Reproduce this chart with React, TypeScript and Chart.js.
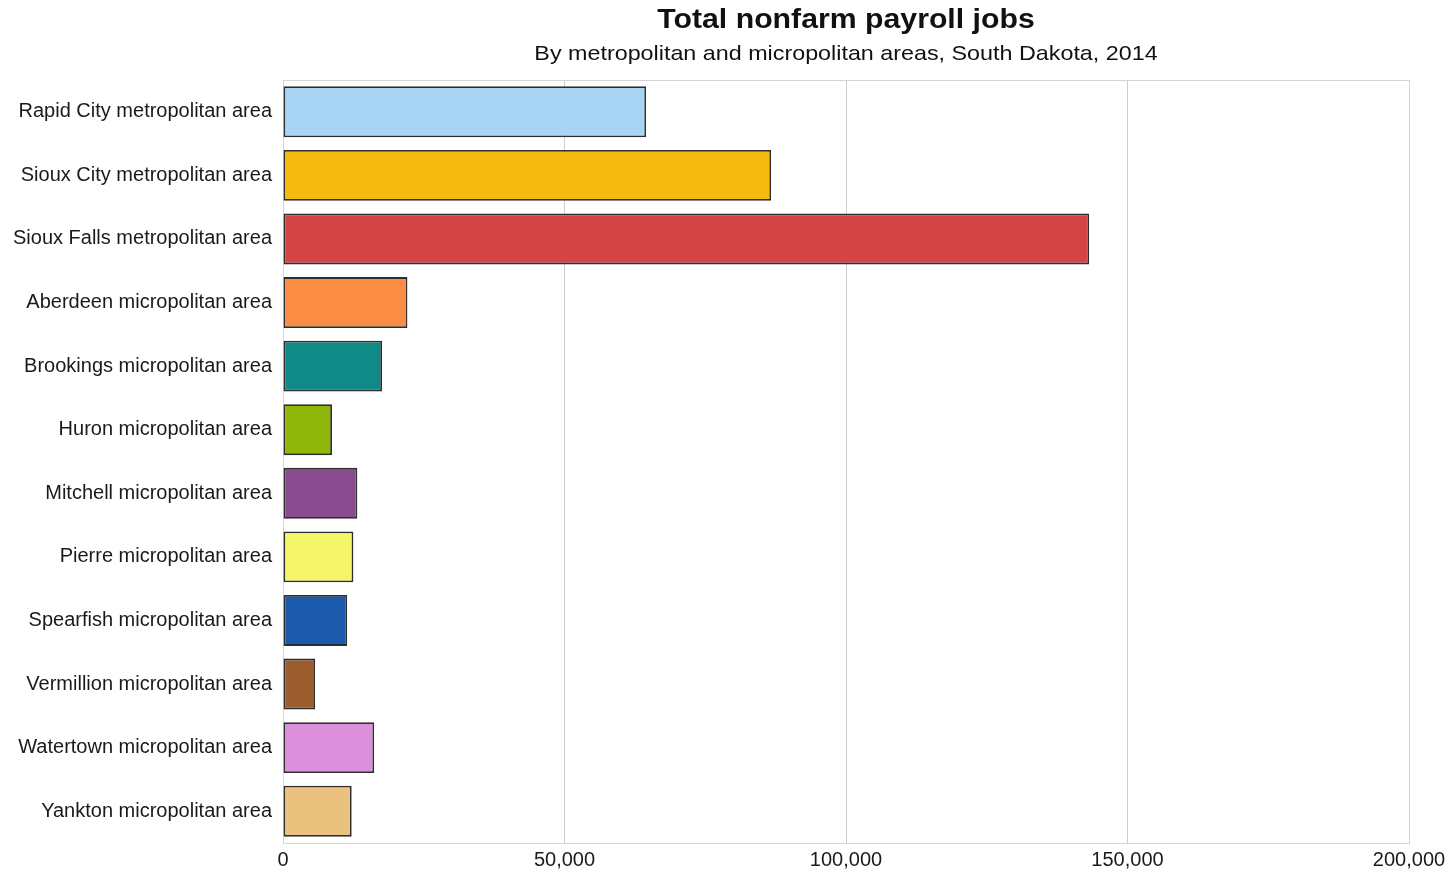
import React, { useEffect, useRef } from "react";
import { Chart, registerables } from "chart.js";

Chart.register(...registerables);

const titleText = "Total nonfarm payroll jobs";
const subtitleText = "By metropolitan and micropolitan areas, South Dakota, 2014";

const categories = [
  "Rapid City metropolitan area",
  "Sioux City metropolitan area",
  "Sioux Falls metropolitan area",
  "Aberdeen micropolitan area",
  "Brookings micropolitan area",
  "Huron micropolitan area",
  "Mitchell micropolitan area",
  "Pierre micropolitan area",
  "Spearfish micropolitan area",
  "Vermillion micropolitan area",
  "Watertown micropolitan area",
  "Yankton micropolitan area",
];

const jobs = [64500, 86700, 143200, 22100, 17600, 8700, 13200, 12500, 11400, 5700, 16200, 12200];

const barColors = [
  "#a9d5f5",
  "#f5b90f",
  "#d64545",
  "#fb8c44",
  "#0f8a87",
  "#8fb70a",
  "#8a4a8e",
  "#f5f56a",
  "#1b5aad",
  "#9b5d2e",
  "#da90da",
  "#ebc27d",
];

const xMin = 0;
const xMax = 200000;
const xStep = 50000;

const FONT = "'Liberation Sans', Arial, sans-serif";

const titlePlugin = {
  id: "centerTitle",
  afterDraw(chart: any) {
    const { ctx, chartArea } = chart;
    const cx = (chartArea.left + chartArea.right) / 2;
    ctx.save();
    ctx.fillStyle = "#111";
    ctx.textAlign = "center";
    ctx.textBaseline = "middle";
    ctx.save();
    ctx.translate(cx, 20);
    ctx.scale(1.08, 1);
    ctx.font = `bold 28px ${FONT}`;
    ctx.fillText(titleText, 0, 0);
    ctx.restore();
    ctx.save();
    ctx.translate(cx, 54);
    ctx.scale(1.11, 1);
    ctx.font = `21px ${FONT}`;
    ctx.fillText(subtitleText, 0, 0);
    ctx.restore();
    ctx.restore();
  },
};

const borderPlugin = {
  id: "plotBorder",
  beforeDatasetsDraw(chart: any) {
    const { ctx, chartArea } = chart;
    ctx.save();
    ctx.strokeStyle = "#d4d4d4";
    ctx.lineWidth = 1;
    ctx.strokeRect(chartArea.left + 0.5, chartArea.top + 0.5, chartArea.right - chartArea.left, chartArea.bottom - chartArea.top);
    ctx.restore();
  },
};

export default function App() {
  const ref = useRef<HTMLCanvasElement | null>(null);
  useEffect(() => {
    document.body.style.margin = "0";
    if (!ref.current) return;
    const chart = new Chart(ref.current, {
      type: "bar",
      data: {
        labels: categories,
        datasets: [
          {
            data: jobs,
            backgroundColor: barColors,
            borderColor: "#2e2e2e",
            borderWidth: 1.8,
            borderSkipped: false,
            barPercentage: 0.8,
            categoryPercentage: 1,
          },
        ],
      },
      options: {
        indexAxis: "y",
        animation: false,
        responsive: false,
        maintainAspectRatio: false,
        layout: { padding: { top: 80, right: 44, left: 0, bottom: 0 } },
        plugins: {
          legend: { display: false },
          title: { display: false },
          tooltip: { enabled: false },
        },
        scales: {
          x: {
            min: xMin,
            max: xMax,
            afterFit(scale: any) {
              scale.height = 28;
            },
            ticks: {
              stepSize: xStep,
              color: "#1a1a1a",
              font: { family: FONT, size: 20 },
              padding: 5,
              maxRotation: 0,
              callback: (v: any) => Number(v).toLocaleString("en-US"),
            },
            grid: { color: "#cccccc", drawTicks: false, lineWidth: 1 },
            border: { display: false },
          },
          y: {
            afterFit(scale: any) {
              scale.width = 283;
            },
            ticks: {
              color: "#1a1a1a",
              font: { family: FONT, size: 20 },
              padding: 11,
            },
            grid: { display: false, drawTicks: false },
            border: { display: false },
          },
        },
      },
      plugins: [titlePlugin, borderPlugin],
    });
    return () => chart.destroy();
  }, []);
  return (
    <div style={{ width: 1453, height: 871 }}>
      <canvas ref={ref} width={1453} height={871} style={{ display: "block" }} />
    </div>
  );
}
